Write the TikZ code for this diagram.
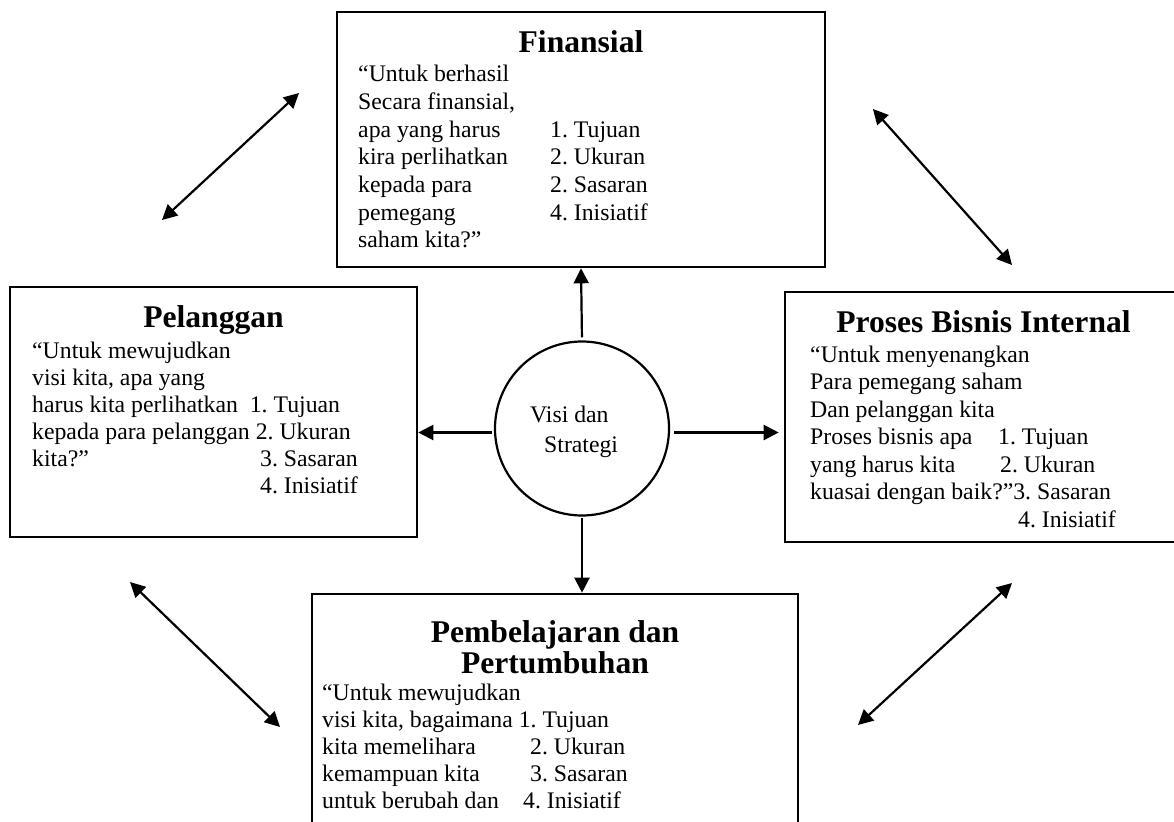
\documentclass[tikz,border=0pt]{standalone}
\usepackage{fontspec}
\setmainfont{Liberation Serif}
\usetikzlibrary{arrows.meta,calc}

\tikzset{
  panel/.style={draw, line width=2.6pt, inner sep=0pt},
  hub/.style={draw, circle, line width=2.2pt, minimum size=174pt, inner sep=0pt},
  body/.style={anchor=base west, inner sep=0pt, font=\fontsize{23.75}{27.5}\selectfont},
  heading/.style={anchor=base, inner sep=0pt, font=\fontsize{31.6}{34}\selectfont\bfseries},
  tip/.tip={Triangle[length=15pt,width=15pt]},
  link/.style={line width=2.2pt, -tip},
  duplex/.style={line width=2.2pt, tip-tip},
}

% one line of text, set on its baseline
\newcommand\bodyline[4]{\node[body] (#1) at (#2,#3) {#4};}

\begin{document}
\frenchspacing
\begin{tikzpicture}[x=1pt,y=-1pt]
\useasboundingbox (0,0) rectangle (1174,821);
\clip (0,0) rectangle (1174,821);

% ---- the four perspectives and the centre ----
\node[panel, minimum width=488pt, minimum height=255pt] (fin) at (581,139.5) {};
\node[panel, minimum width=407pt, minimum height=250pt] (pel) at (213.5,412) {};
\node[panel, minimum width=400pt, minimum height=250pt] (pro) at (985,417) {};
\node[panel, minimum width=486pt, minimum height=246pt] (pem) at (555,717) {};
\node[hub] (hub) at (582,428.5) {};

% ---- Finansial ----
\node[heading] (finT) at (581,53) {Finansial};
\bodyline{f1}{358}{82}{“Untuk berhasil}
\bodyline{f2}{358}{110}{Secara finansial,}
\bodyline{f3}{358}{137.5}{apa yang harus}
\bodyline{f4}{358}{165}{kira perlihatkan}
\bodyline{f5}{358}{192.5}{kepada para}
\bodyline{f6}{358}{220}{pemegang}
\bodyline{f7}{358}{247.5}{saham kita?”}
\bodyline{fa}{550}{137.5}{1. Tujuan}
\bodyline{fb}{550}{165}{2. Ukuran}
\bodyline{fc}{550}{192.5}{2. Sasaran}
\bodyline{fd}{550}{220}{4. Inisiatif}

% ---- Pelanggan ----
\node[heading] (pelT) at (213.5,327) {Pelanggan};
\bodyline{p1}{32}{358}{“Untuk mewujudkan}
\bodyline{p2}{32}{385}{visi kita, apa yang}
\bodyline{p3}{32}{412}{harus kita perlihatkan\ \ 1. Tujuan}
\bodyline{p4}{32}{439}{kepada para pelanggan 2. Ukuran}
\bodyline{p5}{32}{466}{kita?”}
\bodyline{pc}{260}{466}{3. Sasaran}
\bodyline{pd}{260}{493}{4. Inisiatif}

% ---- Proses Bisnis Internal ----
\node[heading] (proT) at (983.5,332) {Proses Bisnis Internal};
\bodyline{r1}{810}{362}{“Untuk menyenangkan}
\bodyline{r2}{810}{389.5}{Para pemegang saham}
\bodyline{r3}{810}{417}{Dan pelanggan kita}
\bodyline{r4}{810}{444.5}{Proses bisnis apa}
\bodyline{r5}{810}{472}{yang harus kita}
\bodyline{r6}{810}{499.5}{kuasai dengan baik?”3. Sasaran}
\bodyline{ra}{998}{444.5}{1. Tujuan}
\bodyline{rb}{1000}{472}{2. Ukuran}
\bodyline{rd}{1018}{527}{4. Inisiatif}

% ---- Pembelajaran dan Pertumbuhan ----
\node[heading] (pemT1) at (555,642) {Pembelajaran dan};
\node[heading] (pemT2) at (555,673) {Pertumbuhan};
\bodyline{b1}{322}{700}{“Untuk mewujudkan}
\bodyline{b2}{322}{727}{visi kita, bagaimana 1. Tujuan}
\bodyline{b3}{322}{754}{kita memelihara}
\bodyline{b4}{322}{781}{kemampuan kita}
\bodyline{b5}{322}{808}{untuk berubah dan}
\bodyline{bb}{530}{754}{2. Ukuran}
\bodyline{bc}{530}{781}{3. Sasaran}
\bodyline{bd}{523}{808}{4. Inisiatif}

% ---- centre label ----
\bodyline{v1}{530}{422}{Visi dan}
\bodyline{v2}{544}{452}{Strategi}

% ---- arrows from the centre ----
\draw[link, shorten <=3pt] (hub.north) -- (fin.south);
\draw[link, shorten <=1pt] (hub.south) -- (hub.south |- pem.north);
\draw[link, shorten <=2pt] ($(hub.west)+(0,4)$) -- ($(hub.west -| pel.east)+(0,4)$);
\draw[link, shorten <=4pt, shorten >=5pt] ($(hub.east)+(0,4)$) -- ($(hub.east -| pro.west)+(0,4)$);

% ---- links between neighbouring perspectives ----
\coordinate (ul1) at (162,220);  \coordinate (ul2) at (299,93);
\coordinate (ur1) at (873,109);  \coordinate (ur2) at (1012,265);
\coordinate (ll1) at (130,582);  \coordinate (ll2) at (280,727);
\coordinate (lr1) at (858,725);  \coordinate (lr2) at (1012,583);
\draw[duplex] (ul1) -- (ul2);
\draw[duplex] (ur1) -- (ur2);
\draw[duplex] (ll1) -- (ll2);
\draw[duplex] (lr1) -- (lr2);
\end{tikzpicture}
\end{document}
